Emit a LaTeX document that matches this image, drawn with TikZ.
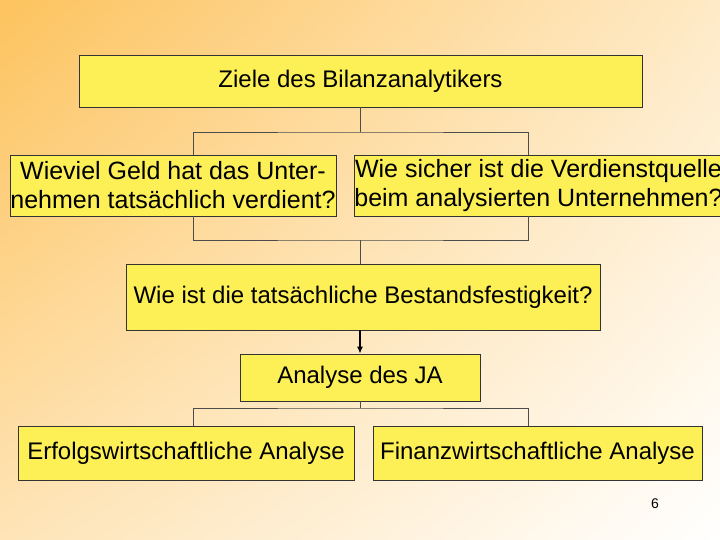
\documentclass[tikz,border=0pt]{standalone}
\usepackage{fontspec}
\setmainfont{Liberation Sans}
\usetikzlibrary{shadings,arrows.meta}
\begin{document}
\begin{tikzpicture}[x=1pt,y=-1pt,
  box/.style={draw=black!80,line width=0.6pt,fill=yellowbox,inner sep=0pt,font=\fontsize{24}{29}\selectfont,align=center},
  conn/.style={draw=black!70,line width=0.6pt}]
\definecolor{yellowbox}{HTML}{FDEF56}
\definecolor{bgorange}{HTML}{FDC35E}
\shade[upper left=bgorange,upper right=bgorange!35!white,lower left=bgorange!45!white,lower right=white] (0,0) rectangle (720,540);
\useasboundingbox (0,0) rectangle (720,540);
\node[box,minimum width=563pt,minimum height=52pt] (top) at (360.5,81) {Ziele des Bilanzanalytikers};
\node[box,minimum width=326pt,minimum height=61pt,font=\fontsize{25}{29}\selectfont] (l) at (173,185.5) {Wieviel Geld hat das Unter-\\nehmen tatsächlich verdient?};
\node[box,minimum width=331pt,minimum height=61pt,font=\fontsize{25}{29}\selectfont] (r) at (538.5,185.5) {Wie sicher ist die Verdienstquelle\\beim analysierten Unternehmen?};
\node[box,minimum width=474pt,minimum height=66pt] (m) at (363,297) {Wie ist die tatsächliche Bestandsfestigkeit?};
\node[box,minimum width=240pt,minimum height=47pt] (a) at (360,377.5) {Analyse des JA};
\node[box,minimum width=336pt,minimum height=54pt] (bl) at (186,453) {Erfolgswirtschaftliche Analyse};
\node[box,minimum width=329pt,minimum height=54pt] (br) at (537.5,453) {Finanzwirtschaftliche Analyse};
\node[font=\fontsize{14}{16}\selectfont] (pg) at (655,504) {6};
\coordinate (xl) at (193,0);
\coordinate (xr) at (528,0);
\coordinate (xc) at (360,0);
\coordinate (t1) at (360,132);
\coordinate (t2) at (360,240);
\coordinate (t3) at (360,408);
\draw[conn] (top.south -| xc) -- (t1);
\draw[conn] (l.north -| xl) |- (t1) -| (r.north -| xr);
\draw[conn] (l.south -| xl) |- (t2) -| (r.south -| xr);
\draw[conn] (t2) -- (m.north -| xc);
\draw[-{Latex[length=7pt,width=6pt]},draw=black,line width=1.5pt] (m.south -| xc) -- (a.north -| xc);
\draw[conn] (a.south -| xc) -- (t3);
\draw[conn] (bl.north -| xl) |- (t3) -| (br.north -| xr);
\end{tikzpicture}
\end{document}
